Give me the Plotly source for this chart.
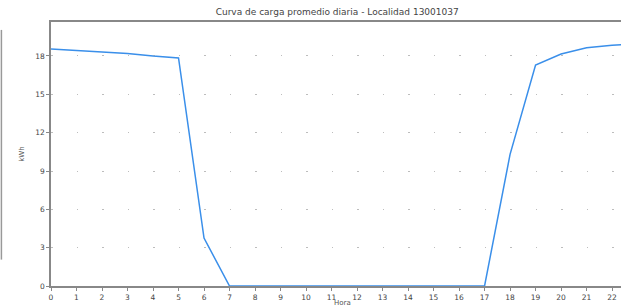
import plotly.graph_objects as go

horas = list(range(24))
kwh = [18.55, 18.45, 18.3, 18.2, 18.0, 17.85, 3.75, 0, 0, 0, 0, 0, 0, 0, 0, 0, 0, 0,
       10.3, 17.3, 18.15, 18.65, 18.85, 18.95]
yticks = [0, 3, 6, 9, 12, 15, 18]
xticks = list(range(23))
titulo = "Curva de carga promedio diaria - Localidad 13001037"

fig = go.Figure()
fig.add_trace(go.Scatter(x=horas, y=kwh, mode="lines",
                         line=dict(color="#3a8fea", width=1.5), showlegend=False))

fnt = "DejaVu Sans"
fig.update_layout(
    width=621, height=308,
    margin=dict(l=51, r=0, t=22, b=22),
    paper_bgcolor="white", plot_bgcolor="white",
    title=dict(text=titulo, x=0.543, xanchor="center", y=0.962, yanchor="middle",
               font=dict(family=fnt, size=9, color="#444")),
    font=dict(family=fnt, size=7.5, color="#444"),
)
fig.update_xaxes(range=[0, 22.35], tickvals=xticks, ticks="outside", ticklen=3,
                 tickcolor="#888", showline=True, linecolor="#888", linewidth=1.5,
                 mirror=True, showgrid=False, zeroline=False)
fig.update_yaxes(range=[0, 20.66], tickvals=yticks, ticks="outside", ticklen=3,
                 tickcolor="#888", showline=True, linecolor="#888", linewidth=1.5,
                 mirror=False, showgrid=True, gridcolor="#bdbdbd", gridwidth=1.2,
                 griddash="1.5px,24px", zeroline=False,
                 title=dict(text="kWh", font=dict(size=7, color="#555"), standoff=10))
fig.add_annotation(text="Hora", xref="paper", yref="paper", x=0.512, y=-0.066,
                   xanchor="center", yanchor="middle", showarrow=False,
                   font=dict(family=fnt, size=7, color="#555"))
fig.add_shape(type="line", xref="paper", yref="paper", x0=-0.087, x1=-0.087,
              y0=0.1, y1=0.97, line=dict(color="#999", width=1.5))
fig.write_html("out.html", config={"displayModeBar": False},
               post_script="document.body.style.margin='0';document.body.style.overflow='hidden';")
